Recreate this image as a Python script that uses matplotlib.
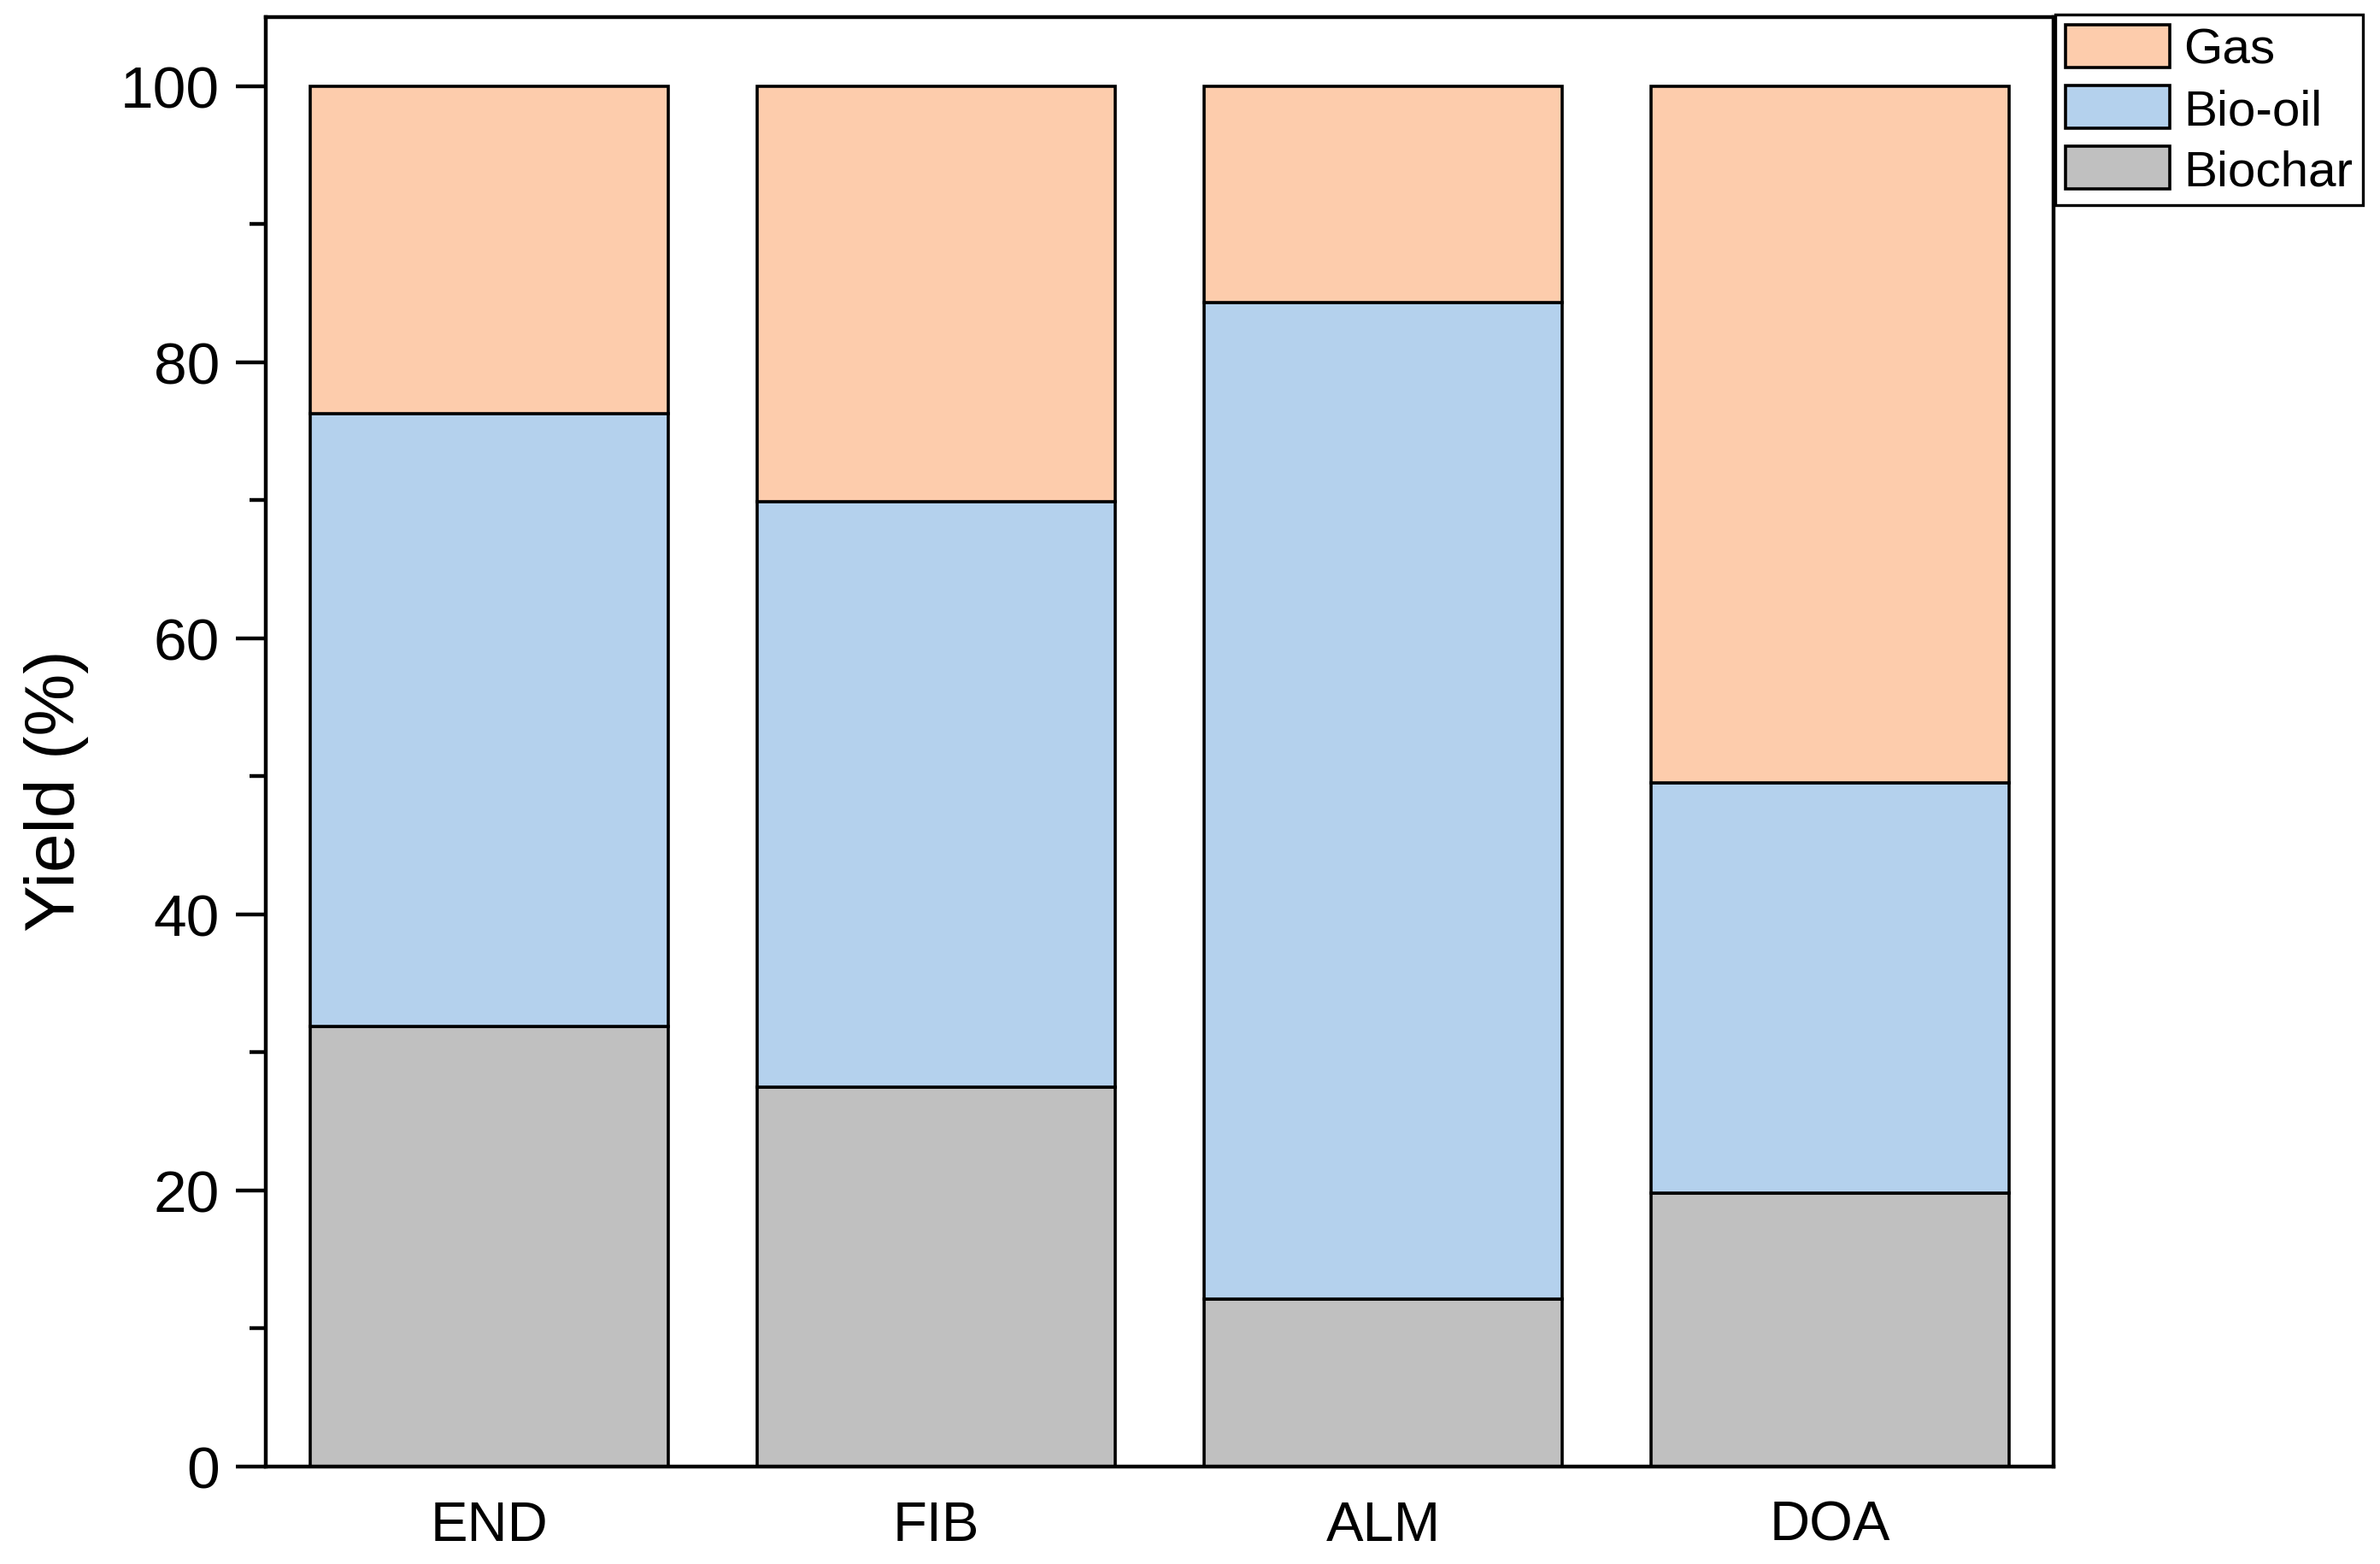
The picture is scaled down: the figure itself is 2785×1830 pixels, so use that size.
import matplotlib
matplotlib.use('Agg')
import matplotlib.pyplot as plt
from matplotlib.ticker import MultipleLocator

plt.rcParams['font.family'] = ['Liberation Sans', 'DejaVu Sans']

# Data
samples = ['END', 'FIB', 'ALM', 'DOA']
biochar = [31.9, 27.5, 12.1, 19.8]
bio_oil = [44.4, 42.4, 72.2, 29.7]
gas = [23.7, 30.1, 15.7, 50.5]

colors = {'Biochar': '#C0C0C0', 'Bio-oil': '#B4D1ED', 'Gas': '#FDCCAC'}

fig = plt.figure(figsize=(13.925, 9.155), dpi=200)
ax = fig.add_axes([0.1117, 0.0623, 0.7511, 0.9262])

x = range(len(samples))
bottom_oil = biochar
bottom_gas = [a + b for a, b in zip(biochar, bio_oil)]

edge = dict(edgecolor='black', linewidth=1.3, width=0.8)
b1 = ax.bar(x, biochar, color=colors['Biochar'], label='Biochar', **edge)
b2 = ax.bar(x, bio_oil, bottom=bottom_oil, color=colors['Bio-oil'], label='Bio-oil', **edge)
b3 = ax.bar(x, gas, bottom=bottom_gas, color=colors['Gas'], label='Gas', **edge)

ax.set_xlim(-0.5, 3.5)
ax.set_ylim(0, 105)
ax.set_xticks(list(x))
ax.set_xticklabels(samples)
ax.yaxis.set_major_locator(MultipleLocator(20))
ax.yaxis.set_minor_locator(MultipleLocator(10))

ax.tick_params(axis='y', which='major', direction='out', length=12.5, width=1.6,
               labelsize=25, pad=7)
ax.tick_params(axis='y', which='minor', direction='out', length=7, width=1.6)
ax.tick_params(axis='x', which='both', length=0, labelsize=23.5, pad=14)

for s in ax.spines.values():
    s.set_linewidth(1.6)

ax.set_ylabel('Yield (%)', fontsize=29.5)
ax.yaxis.set_label_coords(-0.099, 0.467)

leg = fig.legend(handles=[b3, b2, b1], labels=['Gas', 'Bio-oil', 'Biochar'],
                 loc='upper left', bbox_to_anchor=(2405 / 2785, 1 - 18 / 1831),
                 bbox_transform=fig.transFigure, borderaxespad=0,
                 fontsize=21, fancybox=False, edgecolor='black',
                 handlelength=2.1, handleheight=0.95, handletextpad=0.28,
                 labelspacing=0.24, borderpad=0.2, framealpha=1)
leg.get_frame().set_linewidth(1.2)

fig.savefig('out.png', dpi=200)
